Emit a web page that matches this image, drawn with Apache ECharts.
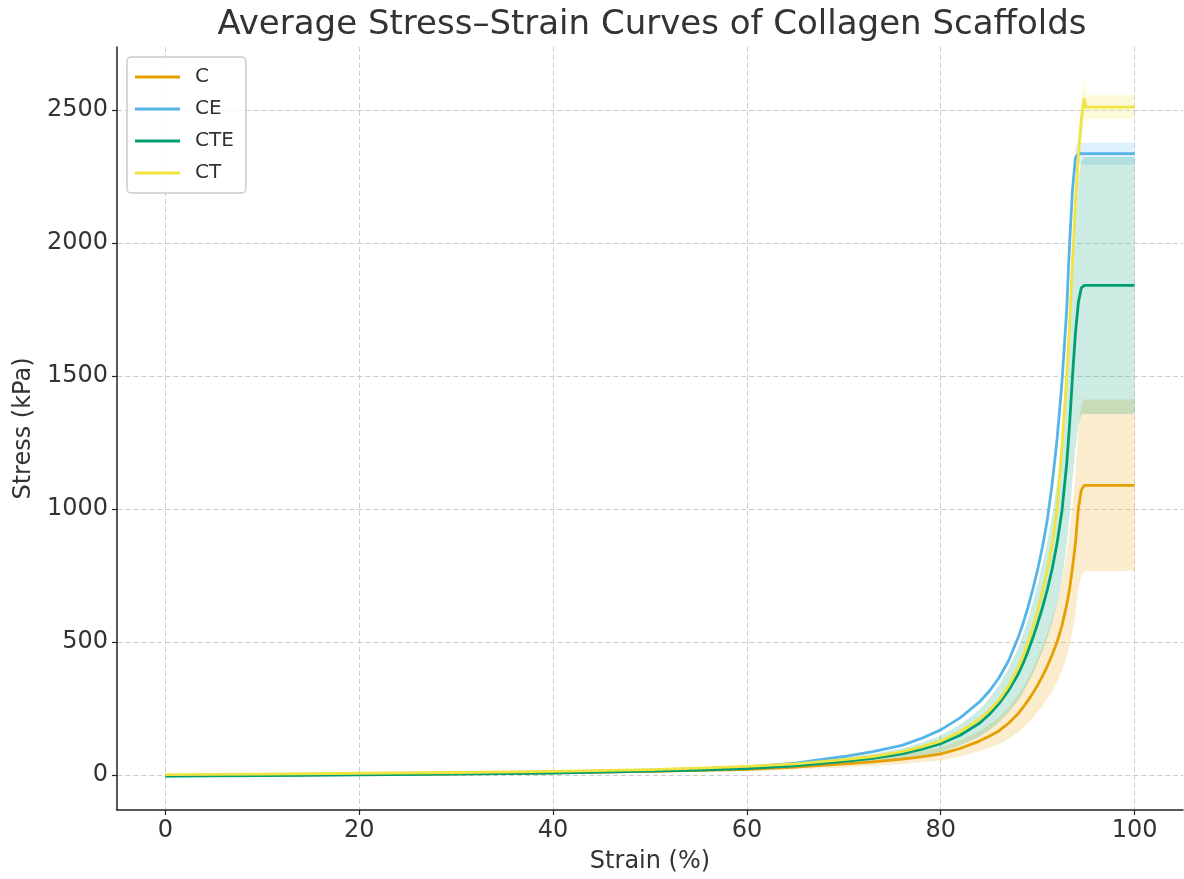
<!DOCTYPE html>
<html>
<head>
<meta charset="utf-8">
<title>Average Stress–Strain Curves of Collagen Scaffolds</title>
<script src="https://cdn.jsdelivr.net/npm/echarts@6/dist/echarts.min.js"></script>
<style>
  html, body { margin: 0; padding: 0; background: #fff; }
  #chart { width: 1184px; height: 879px; }
</style>
</head>
<body>
<div id="chart"></div>
<script>
// strain (%) sample points shared by all curves
var strain = [0, 10, 20, 30, 40, 50, 55, 60, 65, 70, 73, 76, 78, 80, 82, 84, 85, 86, 87, 88, 88.5, 89, 89.5, 90, 90.5, 91, 91.5, 92, 92.5, 93, 93.3, 93.6, 93.9, 94.2, 94.5, 94.8, 95, 100];

// mean stress (kPa)
var cMean   = [-2, 0, 2, 5, 9, 14, 18, 22, 30, 42, 50, 60, 69, 80, 100, 128, 146, 166, 195, 232, 255, 280, 308, 338, 372, 410, 452, 500, 560, 640, 700, 780, 870, 1000, 1070, 1089, 1089, 1089];
var ceMean  = [-3, 0, 3, 7, 12, 19, 24, 30, 45, 70, 88, 112, 138, 170, 215, 275, 315, 365, 430, 518, 570, 630, 698, 772, 858, 960, 1095, 1260, 1470, 1750, 2000, 2200, 2320, 2335, 2335, 2335, 2335, 2335];
var cteMean = [-4, -2, 1, 4, 8, 15, 19, 25, 35, 52, 63, 80, 97, 118, 150, 195, 228, 268, 318, 380, 420, 465, 515, 570, 630, 697, 775, 870, 990, 1170, 1320, 1500, 1660, 1775, 1830, 1840, 1840, 1840];
var ctMean  = [2, 4, 7, 10, 14, 21, 26, 33, 42, 58, 70, 88, 106, 128, 163, 210, 242, 282, 335, 405, 447, 500, 555, 618, 690, 770, 865, 1000, 1230, 1500, 1700, 1930, 2150, 2330, 2460, 2540, 2510, 2510];

// standard deviation (half width of the shaded band)
var cStd   = [1, 1, 1, 2, 3, 4, 5, 7, 9, 13, 15, 18, 21, 24, 30, 38, 44, 50, 59, 70, 77, 84, 92, 101, 112, 123, 136, 150, 168, 192, 210, 234, 261, 300, 320, 326, 322, 322];
var ceStd  = [1, 1, 1, 1, 1, 1, 1, 1, 1, 1, 2, 2, 2, 3, 4, 5, 6, 6, 8, 9, 10, 11, 12, 14, 15, 17, 19, 22, 26, 31, 35, 39, 41, 41, 41, 41, 41, 41];
var cteStd = [1, 1, 1, 1, 2, 4, 5, 6, 9, 13, 16, 21, 25, 31, 39, 51, 59, 70, 83, 99, 109, 121, 134, 148, 164, 181, 202, 226, 257, 304, 343, 390, 432, 462, 476, 483, 483, 483];
var ctStd  = [1, 1, 1, 1, 1, 1, 1, 1, 1, 1, 1, 2, 2, 2, 3, 4, 4, 5, 6, 8, 9, 10, 11, 12, 13, 15, 17, 19, 23, 30, 38, 48, 60, 75, 90, 75, 45, 45];

var xTicks = [0, 20, 40, 60, 80, 100];
var yTicks = [0, 500, 1000, 1500, 2000, 2500];

var groups = [
  { name: 'C',   mean: cMean,   std: cStd,   color: '#E69F00', band: 'rgba(230,159,0,0.2)' },
  { name: 'CE',  mean: ceMean,  std: ceStd,  color: '#56B4E9', band: 'rgba(86,180,233,0.2)' },
  { name: 'CTE', mean: cteMean, std: cteStd, color: '#009E73', band: 'rgba(0,158,115,0.2)' },
  { name: 'CT',  mean: ctMean,  std: ctStd,  color: '#F0E442', band: 'rgba(240,228,66,0.2)' }
];

// mean +/- std polygon, placed through the chart's own coordinate system
function bandSeries (g) {
  return {
    type: 'custom',
    clip: true,
    silent: true,
    data: [[0, 0]],
    renderItem: function (params, api) {
      var pts = [];
      for (var i = 0; i < strain.length; i++) {
        pts.push(api.coord([strain[i], g.mean[i] + g.std[i]]));
      }
      for (var j = strain.length - 1; j >= 0; j--) {
        pts.push(api.coord([strain[j], g.mean[j] - g.std[j]]));
      }
      return {
        type: 'polygon',
        shape: { points: pts },
        style: { fill: g.band, stroke: null }
      };
    }
  };
}

function lineSeries (g) {
  var d = [];
  for (var i = 0; i < strain.length; i++) d.push([strain[i], g.mean[i]]);
  return {
    name: g.name,
    type: 'line',
    data: d,
    showSymbol: false,
    symbol: 'none',
    color: g.color,
    lineStyle: { color: g.color, width: 2.8, join: 'round' }
  };
}

var series = [];
groups.forEach(function (g) {
  series.push(bandSeries(g));
  series.push(lineSeries(g));
});

var font = 'DejaVu Sans';
var myChart = echarts.init(document.getElementById('chart'));
myChart.setOption({
  animation: false,
  backgroundColor: '#fff',
  title: {
    text: 'Average Stress–Strain Curves of Collagen Scaffolds',
    left: 647,
    textAlign: 'center',
    top: 3,
    textStyle: { fontFamily: font, fontSize: 34, fontWeight: 'normal', color: '#333' }
  },
  legend: {
    data: groups.map(function (g) { return g.name; }),
    orient: 'vertical',
    left: 127,
    top: 57,
    icon: 'rect',
    itemWidth: 45,
    itemHeight: 3,
    itemGap: 12,
    padding: [10, 12, 10, 8],
    backgroundColor: 'rgba(255,255,255,0.8)',
    borderColor: '#ccc',
    borderWidth: 1.5,
    borderRadius: 4,
    textStyle: { fontFamily: font, fontSize: 20, color: '#333', lineHeight: 20, padding: [0, 0, 0, 10] }
  },
  grid: { left: 117, right: 1, top: 47, bottom: 68 },
  xAxis: {
    type: 'value',
    min: -5,
    max: 105,
    name: 'Strain (%)',
    nameLocation: 'middle',
    nameGap: 40,
    nameTextStyle: { fontFamily: font, fontSize: 24, color: '#333' },
    axisLine: { onZero: false, lineStyle: { color: '#222', width: 1.5 } },
    axisTick: { customValues: xTicks, length: 5, lineStyle: { color: '#222', width: 1.2 } },
    axisLabel: { customValues: xTicks, margin: 9, fontFamily: font, fontSize: 24, color: '#333' },
    splitLine: { show: true, lineStyle: { color: '#ccc', type: [5, 3], width: 1 } }
  },
  yAxis: {
    type: 'value',
    min: -131,
    max: 2736,
    name: 'Stress (kPa)',
    nameLocation: 'middle',
    nameGap: 80,
    nameTextStyle: { fontFamily: font, fontSize: 24, color: '#333' },
    axisLine: { show: true, onZero: false, lineStyle: { color: '#222', width: 1.5 } },
    axisTick: { show: true, customValues: yTicks, length: 5, lineStyle: { color: '#222', width: 1.2 } },
    axisLabel: {
      customValues: yTicks, margin: 9, fontFamily: font, fontSize: 24, color: '#333',
      formatter: function (v) { return String(v); }
    },
    splitLine: { show: true, lineStyle: { color: '#ccc', type: [5, 3], width: 1 } }
  },
  series: series
});
</script>
</body>
</html>
